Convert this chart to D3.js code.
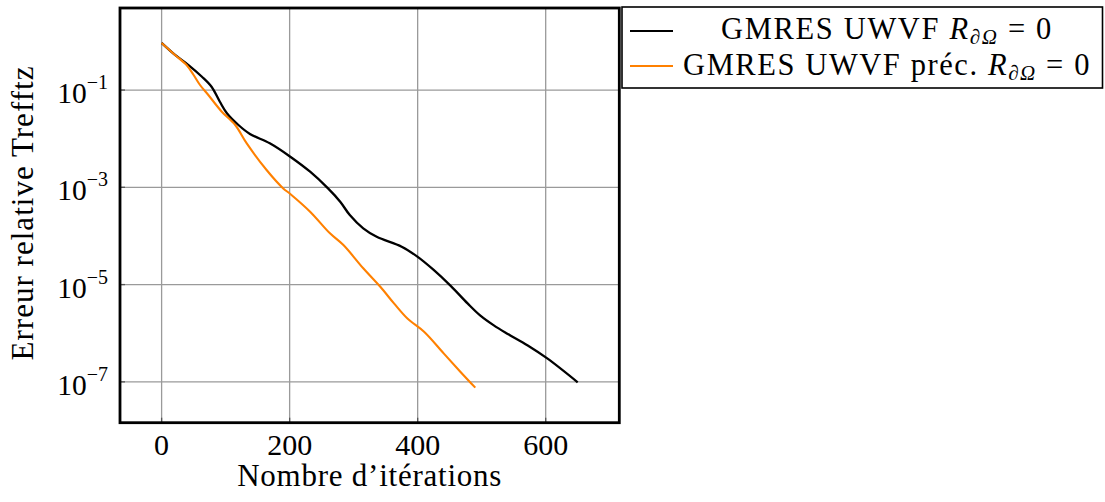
<!DOCTYPE html>
<html><head><meta charset="utf-8">
<script src="https://cdn.jsdelivr.net/npm/d3@7"></script>
<style>body{margin:0;background:#fff}svg{display:block}text{font-family:"Liberation Serif","DejaVu Serif",serif;fill:#000}</style>
</head><body><svg id="c" width="1105" height="502"></svg>
<script>
const iterBlack = [0,21,42,63,78,91,102,120,138,169,201,232,260,279,294,315,336,375,399,425,452,478,498,519,540,572,603,650];
const errBlack = [0.93,0.526,0.327,0.188,0.117,0.0575,0.0333,0.0191,0.0125,0.00803,0.00426,0.00209,9.5e-4,5.06e-4,2.69e-4,1.43e-4,9.6e-5,6.0e-5,3.8e-5,2.0e-5,9.3e-6,4.1e-6,2.3e-6,1.45e-6,9.8e-7,5.6e-7,3.0e-7,9.8e-8];
const iterOrange = [0,21,39,50,60,73,94,115,133,164,190,201,232,263,284,315,342,363,384,410,441,467,490];
const errOrange = [0.93,0.526,0.327,0.204,0.127,0.079,0.0359,0.0191,0.0080,0.00227,9.5e-4,7.3e-4,3.15e-4,1.13e-4,6.5e-5,2.16e-5,8.9e-6,4.1e-6,2.0e-6,1.07e-6,3.8e-7,1.6e-7,7.6e-8];
const xTicks = [0,200,400,600];
const yTickExps = [-1,-3,-5,-7];
const xLabel = "Nombre d\u2019it\u00e9rations";
const yLabel = "Erreur relative Trefftz";

const svg = d3.select("#c");
const L=120, R=619.3, T=8, B=422.7;
const x = d3.scaleLinear().domain([-65,715]).range([L,R]);
const y = d3.scaleLog().domain([Math.pow(10,0.687), Math.pow(10,-7.84)]).range([T,B]);

function fit(sel, target){
  const n = sel.node();
  const len = n.getComputedTextLength();
  const cnt = n.textContent.length;
  sel.attr("letter-spacing", ((target-len)/cnt).toFixed(2));
}

// grid
const g = svg.append("g");
g.selectAll(".gx").data(xTicks).enter().append("line")
  .attr("x1",d=>x(d)).attr("x2",d=>x(d)).attr("y1",T).attr("y2",B)
  .attr("stroke","#9a9a9a").attr("stroke-width",1.3);
g.selectAll(".gy").data(yTickExps).enter().append("line")
  .attr("y1",d=>y(Math.pow(10,d))).attr("y2",d=>y(Math.pow(10,d))).attr("x1",L).attr("x2",R)
  .attr("stroke","#9a9a9a").attr("stroke-width",1.3);
// ticks
g.selectAll(".tx").data(xTicks).enter().append("line")
  .attr("x1",d=>x(d)).attr("x2",d=>x(d)).attr("y1",B-5).attr("y2",B)
  .attr("stroke","#555").attr("stroke-width",1.3);
g.selectAll(".ty").data(yTickExps).enter().append("line")
  .attr("y1",d=>y(Math.pow(10,d))).attr("y2",d=>y(Math.pow(10,d))).attr("x1",L).attr("x2",L+5)
  .attr("stroke","#555").attr("stroke-width",1.3);

const line = d3.line().curve(d3.curveCatmullRom.alpha(0.5));
const ptsB = iterBlack.map((v,i)=>[x(v),y(errBlack[i])]);
const ptsO = iterOrange.map((v,i)=>[x(v),y(errOrange[i])]);
svg.append("path").attr("d",line(ptsB)).attr("fill","none").attr("stroke","#000").attr("stroke-width",2.3).attr("stroke-linejoin","round");
svg.append("path").attr("d",line(ptsO)).attr("fill","none").attr("stroke","#ff8000").attr("stroke-width",2.1).attr("stroke-linejoin","round");

// frame
svg.append("rect").attr("x",L).attr("y",T).attr("width",R-L).attr("height",B-T)
  .attr("fill","none").attr("stroke","#000").attr("stroke-width",2.8);

// x tick labels
svg.selectAll(".xl").data(xTicks).enter().append("text")
  .attr("x",d=>x(d)).attr("y",455).attr("text-anchor","middle").attr("font-size",30).text(d=>d);
// y tick labels
yTickExps.forEach(e=>{
  const yy = y(Math.pow(10,e));
  const t = svg.append("text").attr("x",108).attr("y",yy+13).attr("text-anchor","end").attr("font-size",29.5);
  t.append("tspan").text("10");
  t.append("tspan").attr("dy",-14).attr("font-size",20).text("\u2212"+(-e));
});
// axis labels
const xl = svg.append("text").attr("x",(L+R)/2).attr("y",486).attr("text-anchor","middle").attr("font-size",31).text(xLabel);
fit(xl, 265);
const yl = svg.append("text").attr("transform",`translate(33,213) rotate(-90)`).attr("text-anchor","middle").attr("font-size",31).text(yLabel);
fit(yl, 295);

// legend
const leg = svg.append("g");
leg.append("rect").attr("x",622).attr("y",7).attr("width",480.5).attr("height",81).attr("fill","#fff").attr("stroke","#000").attr("stroke-width",1.6);
const entries = [{pre:"GMRES UWVF ",color:"#000",yl:31,yb:39,w:332},{pre:"GMRES UWVF pr\u00e9c. ",color:"#ff8000",yl:66,yb:75,w:408}];
entries.forEach(en=>{
  leg.append("line").attr("x1",630).attr("x2",673).attr("y1",en.yl).attr("y2",en.yl).attr("stroke",en.color).attr("stroke-width",2.2);
  const t = leg.append("text").attr("x",887).attr("y",en.yb).attr("text-anchor","middle").attr("font-size",30.5);
  t.append("tspan").text(en.pre);
  t.append("tspan").attr("font-style","italic").text("R");
  t.append("tspan").attr("font-size",21).attr("dy",5).attr("font-style","italic").text("\u2202\u03a9");
  t.append("tspan").attr("dy",-5).text(" = 0");
  fit(t, en.w);
});
</script></body></html>
